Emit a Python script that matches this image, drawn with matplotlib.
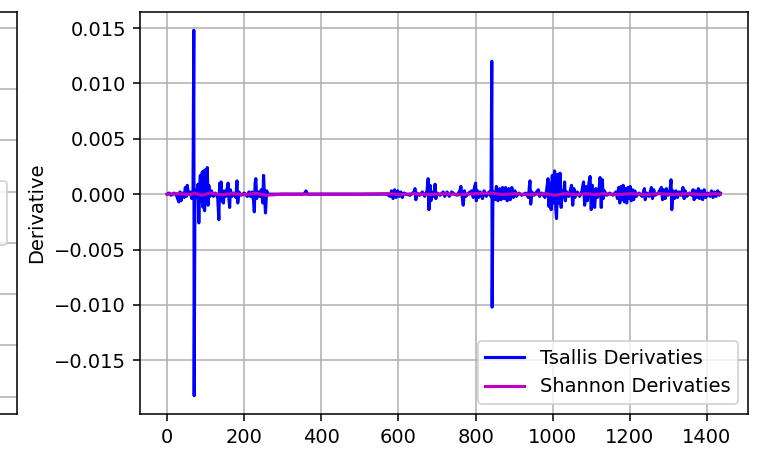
import matplotlib
matplotlib.use("Agg")
import matplotlib.pyplot as plt

# Tsallis derivative
tsallis_x = [
    0, 5, 10, 18, 24, 30, 33, 36, 39, 44, 47, 50, 52, 55, 60, 64, 67, 69, 70, 72,
    76, 80, 82, 84, 86, 88, 91, 93, 95, 97, 99, 101, 104, 106, 108, 111, 115, 120, 125, 131,
    134, 136, 138, 140, 142, 146, 148, 152, 156, 158, 160, 162, 164, 168, 172, 178, 181, 183, 186, 192,
    200, 208, 212, 216, 220, 224, 226, 228, 230, 232, 236, 240, 244, 248, 250, 252, 255, 258, 262, 300,
    355, 360, 364, 570, 578, 582, 586, 590, 594, 598, 602, 606, 610, 614, 620, 630, 640, 643, 645, 648,
    655, 662, 668, 674, 677, 679, 682, 684, 688, 692, 695, 697, 700, 708, 716, 720, 726, 732, 738, 745,
    752, 759, 762, 765, 768, 771, 775, 782, 790, 794, 797, 800, 802, 805, 808, 812, 818, 822, 828, 835,
    840, 842, 843, 845, 850, 854, 858, 862, 866, 870, 874, 878, 882, 886, 890, 894, 898, 902, 906, 912,
    920, 930, 937, 941, 943, 946, 952, 958, 963, 966, 972, 980, 984, 988, 990, 993, 996, 999, 1002, 1005,
    1008, 1010, 1013, 1016, 1019, 1022, 1025, 1028, 1031, 1033, 1036, 1042, 1049, 1052, 1055, 1058, 1064, 1070, 1076, 1080,
    1083, 1086, 1090, 1094, 1097, 1100, 1103, 1106, 1109, 1112, 1116, 1120, 1123, 1126, 1129, 1131, 1134, 1140, 1148, 1156,
    1164, 1168, 1171, 1174, 1177, 1180, 1183, 1186, 1189, 1192, 1195, 1198, 1201, 1204, 1207, 1210, 1213, 1217, 1224, 1232,
    1238, 1240, 1244, 1250, 1256, 1259, 1262, 1266, 1274, 1282, 1285, 1288, 1292, 1295, 1299, 1304, 1307, 1309, 1312, 1316,
    1320, 1324, 1328, 1333, 1338, 1341, 1344, 1348, 1355, 1360, 1364, 1367, 1370, 1374, 1378, 1381, 1385, 1389, 1393, 1397,
    1402, 1408, 1412, 1416, 1420, 1424, 1428, 1432, 1435,
]
tsallis_y = [
    0.0, 0.0001, -0.0001, 0.0001, -0.0001, -0.0007, 0.0002, -0.0006, 0.0001, -0.0003,
    0.0006, -0.0002, 0.0008, 0.0, 0.0002, -0.0004, 0.0003, 0.0148, -0.0182, 0.0004,
    -0.0003, 0.0009, -0.0026, 0.0003, 0.0017, -0.0006, 0.0020, -0.0012, 0.0021, -0.0015,
    0.0022, -0.0005, 0.0024, -0.0010, 0.0008, -0.0002, 0.0003, -0.0002, 0.0001, -0.0003,
    -0.0023, 0.0010, -0.0004, 0.0011, -0.0006, -0.0008, 0.0003, -0.0002, 0.0006, 0.0010,
    -0.0004, -0.0012, 0.0004, -0.0002, 0.0001, -0.0003, 0.0012, -0.0008, 0.0002, -0.0001,
    0.0001, -0.0002, 0.0002, -0.0002, 0.0002, -0.0006, -0.0016, 0.0010, 0.0014, -0.0004,
    0.0002, -0.0002, 0.0004, -0.0008, 0.0017, 0.0002, -0.0017, 0.0003, 0.0, 0.0,
    0.0, 0.0003, 0.0, 0.0, -0.0002, 0.0003, -0.0004, 0.0004, -0.0003, 0.0003,
    -0.0002, 0.0002, -0.0003, 0.0001, 0.0, -0.0001, 0.0002, 0.0005, -0.0005, 0.0001,
    -0.0001, 0.0002, -0.0002, 0.0003, 0.0014, -0.0014, 0.0008, -0.0006, 0.0002, -0.0002,
    0.0009, -0.0004, 0.0001, -0.0001, 0.0002, -0.0002, 0.0002, -0.0002, 0.0002, 0.0,
    -0.0001, 0.0003, 0.0007, -0.0002, -0.0010, 0.0003, -0.0002, 0.0001, 0.0003, -0.0003,
    0.0006, 0.0010, -0.0006, 0.0003, -0.0003, 0.0002, -0.0004, 0.0003, -0.0002, 0.0002,
    -0.0002, 0.0120, -0.0102, 0.0002, -0.0005, 0.0007, -0.0006, 0.0005, -0.0005, 0.0006,
    -0.0004, 0.0006, -0.0006, 0.0005, -0.0005, 0.0006, -0.0003, 0.0003, -0.0002, 0.0001,
    -0.0001, 0.0001, -0.0003, 0.0012, -0.0009, 0.0002, -0.0001, 0.0002, 0.0004, -0.0002,
    0.0001, -0.0003, 0.0003, 0.0014, -0.0011, 0.0010, -0.0014, 0.0017, -0.0008, 0.0021,
    -0.0013, -0.0022, 0.0018, -0.0008, 0.0019, -0.0012, 0.0003, -0.0003, 0.0011, -0.0006,
    0.0002, -0.0002, 0.0008, -0.0010, 0.0005, -0.0003, 0.0002, -0.0002, 0.0003, 0.0011,
    -0.0010, 0.0007, -0.0006, 0.0010, 0.0016, -0.0014, 0.0008, -0.0006, -0.0012, 0.0005,
    -0.0003, 0.0004, 0.0015, -0.0012, 0.0013, -0.0004, 0.0003, -0.0001, 0.0001, -0.0001,
    0.0002, -0.0004, 0.0006, -0.0008, 0.0007, -0.0005, 0.0008, -0.0007, 0.0005, -0.0008,
    0.0006, -0.0004, 0.0007, -0.0006, 0.0004, -0.0005, 0.0003, -0.0002, 0.0001, -0.0002,
    0.0005, -0.0005, 0.0001, -0.0002, 0.0006, -0.0004, 0.0004, -0.0001, 0.0001, 0.0006,
    -0.0005, 0.0004, -0.0004, 0.0005, -0.0001, 0.0002, 0.0013, -0.0014, 0.0003, -0.0004,
    0.0003, -0.0003, 0.0002, -0.0001, 0.0006, -0.0004, 0.0003, -0.0002, 0.0001, -0.0001,
    0.0004, -0.0005, 0.0003, -0.0003, 0.0005, -0.0004, 0.0003, -0.0005, 0.0004, -0.0003,
    0.0001, -0.0002, 0.0003, -0.0003, 0.0002, -0.0002, 0.0003, -0.0001, 0.0001,
]

# Shannon derivative: stays close to zero
shannon_x = [
    0, 30, 60, 70, 90, 110, 140, 170, 200, 230, 255, 300, 400, 500, 580, 600,
    640, 680, 720, 760, 800, 842, 870, 900, 940, 980, 1005, 1030, 1060, 1090,
    1110, 1130, 1170, 1200, 1240, 1280, 1310, 1350, 1390, 1420, 1435,
]
shannon_y = [
    0.0, 0.00005, -0.00005, 0.0001, -0.0001, 0.0001, -0.00005, 0.00005, -0.00005, 0.0001,
    -0.0001, 0.0, 0.0, 0.0, 0.00005, -0.00005, 0.00005, -0.00005, 0.00005, -0.00005,
    0.00005, 0.0001, -0.00005, 0.00005, -0.00005, 0.00005, -0.0001, 0.00005, -0.00005, 0.00005,
    -0.00005, 0.00005, -0.00005, 0.00005, -0.00005, 0.00005, -0.00005, 0.00005, -0.00005, 0.00005,
    0.0,
]

left_labels = ["Tsallis Entropy", "Shannon Entropy"]
left_yticks = [0.043, 0.1706, 0.2982, 0.4258, 0.5534, 0.681, 0.8086, 0.96]

fig = plt.figure(figsize=(765 / 140, 449 / 140), dpi=140)

# neighbouring subplot, mostly cut off on the left
ax_left = fig.add_axes([-0.7732, 0.078, 0.7954, 0.8953])
ax_left.plot([], [], color="b", label=left_labels[0])
ax_left.plot([], [], color="m", label=left_labels[1])
ax_left.set_ylim(0, 1)
ax_left.set_yticks(left_yticks)
ax_left.tick_params(labelleft=False)
ax_left.set_xticks([])
ax_left.grid(True)
ax_left.legend(loc="center right")

ax = fig.add_axes([0.1824, 0.078, 0.7954, 0.8953])
ax.plot(tsallis_x, tsallis_y, color="b", linewidth=1.6, label="Tsallis Derivaties")
ax.plot(shannon_x, shannon_y, color="m", linewidth=1.6, label="Shannon Derivaties")
ax.set_ylabel("Derivative")
ax.grid(True)
ax.legend(loc="lower right")

fig.savefig("out.png", dpi=140)
